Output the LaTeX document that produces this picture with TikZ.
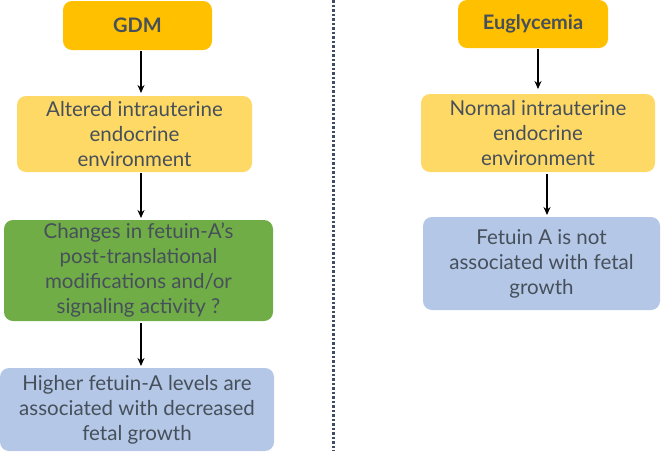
\documentclass[tikz,border=0pt]{standalone}
\usepackage{fontspec}
\setmainfont{Lato}
\usetikzlibrary{arrows.meta}
\definecolor{orng}{HTML}{FFC000}
\definecolor{lyel}{HTML}{FFD966}
\definecolor{grn}{HTML}{70AD47}
\definecolor{lblu}{HTML}{B4C7E7}
\definecolor{txt}{HTML}{46505A}
\definecolor{dotc}{HTML}{3E4D63}
\tikzset{
  box/.style={rounded corners=9pt, inner sep=0pt, text=txt, align=center, font=\fontsize{20.5}{25}\selectfont},
  head/.style={box, font=\fontsize{20}{25}\selectfont\bfseries},
  arr/.style={-{Stealth[length=8pt,width=7pt]}, line width=1.8pt, black}
}
\begin{document}
\begin{tikzpicture}[x=1pt,y=-1pt]
\useasboundingbox (0,0) rectangle (661,451);
% left column
\node[head, fill=orng, minimum width=149pt, minimum height=49pt] (gdm) at (137.5,25.5) {GDM};
\node[box, fill=lyel, minimum width=235pt, minimum height=76pt] (alt) at (134.5,134) {Altered intrauterine\\endocrine\\environment};
\node[box, fill=grn, minimum width=269pt, minimum height=101pt] (chg) at (138.5,270.5) {Changes in fetuin-A’s\\post-translational\\modifications and/or\\signaling activity ?};
\node[box, fill=lblu, minimum width=274pt, minimum height=83pt] (hig) at (137,409.5) {Higher fetuin-A levels are\\associated with decreased\\fetal growth};
% right column
\node[head, fill=orng, minimum width=150pt, minimum height=48pt] (eug) at (533,24) {Euglycemia};
\node[box, fill=lyel, minimum width=234pt, minimum height=78pt] (nor) at (538,133) {Normal intrauterine\\endocrine\\environment};
\node[box, fill=lblu, minimum width=237pt, minimum height=93pt] (fet) at (541.5,263.5) {Fetuin A is not\\associated with fetal\\growth};
% divider
\coordinate (dtop) at (333,0);
\coordinate (dbot) at (333,451);
\draw[dotc, line width=3pt, dash pattern=on 2.5pt off 2pt] (dtop) -- (dbot);
% arrows
\draw[arr] (141,51) -- (141,93);
\draw[arr] (141,173) -- (141,218);
\draw[arr] (141,323) -- (141,366);
\draw[arr] (538,49) -- (538,89);
\draw[arr] (547,174) -- (547,215);
\end{tikzpicture}
\end{document}
